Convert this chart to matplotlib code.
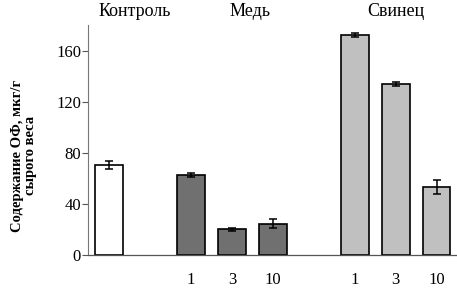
import matplotlib.pyplot as plt
import matplotlib.transforms as mtransforms

plt.rcParams['font.family'] = ['Liberation Serif', 'DejaVu Serif']

# data
groups = ['Контроль', 'Медь', 'Свинец']
control_val = [70.5]
control_err = [3.0]
copper_doses = ['1', '3', '10']
copper_val = [62.5, 20.0, 24.5]
copper_err = [1.5, 1.5, 3.5]
lead_doses = ['1', '3', '10']
lead_val = [172.5, 134.0, 53.0]
lead_err = [1.5, 1.5, 5.5]

fig = plt.figure(figsize=(4.57, 2.88), dpi=100)
ax = fig.add_axes([0.1926, 0.1146, 0.8074, 0.7984])

w = 0.68
ekw = dict(elinewidth=1.1, capthick=1.1, ecolor='black')
ax.bar([0], control_val, w, yerr=control_err, capsize=3, color='white',
       edgecolor='black', linewidth=1.2, error_kw=ekw)
ax.bar([2, 3, 4], copper_val, w, yerr=copper_err, capsize=3, color='#707070',
       edgecolor='black', linewidth=1.2, error_kw=ekw)
ax.bar([6, 7, 8], lead_val, w, yerr=lead_err, capsize=3, color='#c0c0c0',
       edgecolor='black', linewidth=1.2, error_kw=ekw)

ax.set_xlim(-0.52, 8.5)
ax.set_ylim(0, 180)
ax.set_yticks([0, 40, 80, 120, 160])
ax.set_xticks([2, 3, 4, 6, 7, 8])
ax.set_xticklabels(copper_doses + lead_doses)
ax.tick_params(axis='x', length=0, pad=12, labelsize=12)
ax.tick_params(axis='y', length=4, width=0.8, color='#555555', labelsize=12, pad=1)

for s in ['top', 'right']:
    ax.spines[s].set_visible(False)
ax.spines['left'].set_color('#777777')
ax.spines['left'].set_linewidth(0.8)
ax.spines['bottom'].set_color('#555555')
ax.spines['bottom'].set_linewidth(0.9)

trans = mtransforms.blended_transform_factory(ax.transData, ax.transAxes)
for xg, name in zip([0.63, 3.44, 7.0], groups):
    ax.text(xg, 1.06, name, transform=trans, ha='center', va='center', fontsize=13)

fig.text(0.052, 0.46, 'Содержание ОФ, мкг/г\nсырого веса', rotation=90,
         ha='center', va='center', fontsize=10.5, fontweight='bold', linespacing=1.0)

fig.savefig('out.png', dpi=100)
